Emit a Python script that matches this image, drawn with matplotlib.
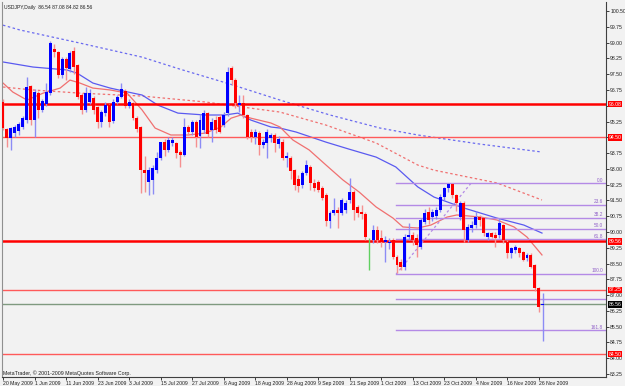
import matplotlib
matplotlib.use("Agg")
import matplotlib.pyplot as plt
import matplotlib.transforms as mtransforms
import numpy as np

plt.rcParams["font.family"] = ["Liberation Sans", "DejaVu Sans"]

# daily USDJPY candles, 20 May 2009 .. 27 Nov 2009
opens = [96.19, 94.90, 94.45, 94.70, 94.80, 95.00, 95.30, 96.93, 95.32, 96.60,
         95.80, 96.10, 96.60, 98.70, 98.55, 97.46, 98.20, 97.73, 98.61, 97.93,
         96.51, 95.80, 96.20, 96.35, 95.95, 95.24, 95.67, 96.03, 95.29, 96.19,
         96.43, 96.70, 95.98, 96.11, 95.40, 95.00, 92.94, 92.40, 92.45, 92.94,
         93.50, 94.26, 93.89, 94.22, 94.21, 93.80, 93.66, 95.00, 94.77, 95.24,
         94.55, 94.84, 95.64, 94.84, 95.32, 95.48, 95.08, 95.64, 97.77, 97.22,
         96.03, 96.11, 95.56, 94.77, 94.53, 94.69, 94.13, 94.21, 94.45, 94.61,
         94.20, 94.30, 93.50, 93.50, 92.94, 92.50, 92.23, 92.79, 93.10, 92.31,
         92.39, 92.07, 91.76, 90.50, 90.90, 91.05, 90.89, 91.05, 91.52, 91.92,
         91.20, 90.95, 90.85, 89.65, 89.62, 90.09, 89.70, 89.54, 89.46, 89.62,
         88.83, 88.59, 88.35, 89.78, 89.86, 89.70, 89.30, 90.49, 90.97, 90.73,
         90.75, 91.05, 91.68, 92.07, 92.28, 91.76, 90.70, 91.36, 89.62, 90.17,
         90.33, 90.73, 90.65, 89.78, 89.94, 89.86, 89.86, 90.33, 89.54, 89.02,
         89.14, 89.22, 89.07, 88.75, 88.91, 88.43, 87.32, 86.54]
highs = [96.30, 94.95, 95.00, 95.10, 95.25, 95.50, 97.35, 97.00, 96.80, 96.70,
         96.30, 97.10, 99.10, 98.95, 98.60, 98.30, 98.30, 98.60, 98.80, 98.00,
         96.60, 96.90, 96.80, 96.45, 96.00, 95.80, 96.20, 96.10, 96.30, 96.50,
         97.06, 96.80, 96.30, 96.20, 95.50, 95.05, 93.60, 93.10, 93.20, 93.80,
         94.30, 94.40, 94.50, 94.50, 94.30, 93.90, 95.40, 95.10, 95.30, 95.30,
         95.60, 95.80, 95.70, 95.40, 95.50, 95.60, 95.70, 97.85, 97.90, 97.30,
         96.50, 96.50, 95.60, 94.90, 94.90, 94.80, 94.40, 94.90, 94.70, 94.70,
         94.55, 94.40, 93.80, 93.60, 93.00, 92.70, 92.90, 93.40, 93.20, 92.50,
         92.45, 92.20, 91.85, 91.00, 91.60, 91.20, 91.60, 91.50, 92.55, 92.00,
         91.30, 91.30, 90.95, 89.70, 90.33, 90.30, 90.10, 89.80, 89.70, 89.70,
         88.90, 88.70, 89.90, 90.41, 90.00, 89.90, 90.65, 91.10, 91.20, 91.10,
         91.20, 91.80, 92.15, 92.33, 92.32, 91.80, 91.45, 91.45, 90.40, 90.50,
         91.00, 90.80, 90.70, 90.00, 90.00, 90.00, 90.65, 90.40, 89.60, 89.30,
         89.40, 89.30, 89.10, 89.00, 89.00, 88.50, 87.40, 87.08]
lows = [94.85, 94.05, 93.90, 94.50, 94.60, 94.90, 95.20, 95.10, 94.50, 95.40,
        95.70, 96.00, 96.50, 98.30, 97.30, 97.30, 97.22, 97.60, 97.50, 96.30,
        95.60, 95.70, 96.10, 95.60, 94.95, 95.00, 95.50, 95.00, 95.20, 96.10,
        96.35, 95.90, 95.90, 95.30, 94.77, 91.84, 91.90, 91.75, 91.80, 92.80,
        93.40, 93.60, 93.80, 94.10, 93.50, 93.10, 93.60, 94.60, 94.60, 94.05,
        94.00, 94.70, 94.50, 94.30, 94.70, 94.70, 95.00, 95.50, 97.00, 95.90,
        95.70, 95.40, 94.40, 94.30, 94.20, 93.66, 94.00, 93.50, 94.30, 93.80,
        94.00, 93.40, 93.10, 92.50, 92.00, 91.90, 92.10, 92.70, 92.00, 91.95,
        91.90, 91.50, 90.30, 90.20, 90.80, 90.17, 90.80, 90.90, 91.40, 90.57,
        90.70, 90.60, 89.60, 88.20, 89.50, 89.50, 89.30, 88.59, 89.20, 88.70,
        88.04, 88.20, 88.20, 89.60, 89.40, 88.80, 89.20, 90.40, 90.40, 90.50,
        90.60, 90.95, 91.50, 91.90, 91.60, 91.00, 90.57, 89.54, 89.54, 90.00,
        90.20, 90.30, 89.80, 89.60, 89.70, 89.30, 89.70, 89.50, 88.75, 88.75,
        89.00, 88.80, 88.60, 88.60, 88.30, 87.20, 86.22, 84.82]
closes = [94.93, 94.45, 94.95, 95.00, 95.15, 95.42, 96.90, 95.32, 96.65, 95.80,
          96.22, 96.65, 98.96, 98.55, 97.46, 98.20, 97.77, 98.49, 97.85, 96.43,
          95.80, 96.59, 96.60, 95.80, 95.24, 95.72, 96.03, 95.24, 96.19, 96.43,
          96.78, 95.98, 96.19, 95.40, 94.88, 92.94, 92.80, 92.94, 93.02, 93.50,
          94.26, 93.89, 94.37, 94.37, 93.74, 93.66, 95.00, 94.77, 95.24, 94.53,
          95.30, 95.64, 94.64, 95.24, 94.84, 94.77, 95.56, 97.60, 97.22, 96.11,
          96.11, 95.56, 94.53, 94.53, 94.77, 94.13, 94.26, 94.77, 94.61, 94.21,
          94.40, 93.50, 93.60, 92.90, 92.23, 92.20, 92.79, 93.18, 92.31, 92.07,
          91.99, 91.60, 90.50, 90.92, 91.05, 90.89, 91.52, 91.36, 91.92, 91.05,
          90.90, 90.85, 89.78, 89.65, 90.09, 89.62, 89.54, 89.62, 89.54, 88.83,
          88.43, 88.35, 89.78, 89.86, 89.62, 89.38, 90.57, 90.89, 90.57, 90.97,
          91.05, 91.68, 92.07, 92.28, 91.76, 91.36, 91.36, 90.09, 90.25, 90.33,
          90.73, 90.57, 89.94, 89.94, 89.78, 89.70, 90.41, 89.62, 88.99, 89.22,
          89.30, 88.99, 88.67, 88.91, 88.35, 87.32, 86.45, 86.56]

date_bars = list(range(0, 137, 8))
date_labels = ["20 May 2009", "1 Jun 2009", "11 Jun 2009", "23 Jun 2009", "3 Jul 2009",
               "15 Jul 2009", "27 Jul 2009", "6 Aug 2009", "18 Aug 2009", "28 Aug 2009",
               "9 Sep 2009", "21 Sep 2009", "1 Oct 2009", "13 Oct 2009", "23 Oct 2009",
               "4 Nov 2009", "16 Nov 2009", "26 Nov 2009"]

# moving averages (bar index, price)
ma_fast_bars = [0, 2.5, 6.1, 10.2, 14.5, 17, 19.5, 22.8, 27.2, 31.5, 35.3, 38.6, 42.6, 47,
                51.3, 55.3, 57.9, 60.4, 62.9, 68, 70.3, 73.6, 77.7, 82, 86.3, 90.4, 94.7,
                99, 101.5, 105.3, 108.6, 112.7, 115.2, 121.3, 125.4, 129.7, 133, 136.8]
ma_fast = [97.08, 96.65, 96.27, 96.60, 96.84, 97.22, 97.08, 96.84, 96.75, 96.60, 95.80,
           94.94, 94.61, 94.61, 94.70, 94.99, 95.41, 95.56, 95.41, 95.18, 94.99, 94.37,
           93.90, 93.18, 92.47, 91.90, 91.19, 90.66, 90.24, 90.19, 90.33, 90.71, 90.81,
           90.71, 90.57, 90.24, 89.76, 88.91]
ma_mid_bars = [0, 7.6, 16.2, 18.8, 22.8, 27.2, 33, 35.3, 39.3, 44.4, 51.3, 56.3, 59.6,
               62.9, 68, 70.3, 74.4, 82, 87.8, 94.7, 99.7, 105.3, 109.4, 117, 125.4,
               132.2, 136.8]
ma_mid = [98.08, 97.84, 97.70, 97.55, 97.08, 96.84, 96.60, 96.51, 96.03, 95.65, 95.56,
          95.56, 95.65, 95.32, 94.99, 94.94, 94.75, 94.27, 93.94, 93.56, 93.09, 92.14,
          91.66, 91.14, 90.66, 90.33, 89.95]
ma_slow_bars = [0, 7.6, 19.5, 35.3, 51.3, 62.7, 70.3, 82, 94.7, 105.3, 109.4, 125.4, 136.8]
ma_slow = [96.89, 96.75, 96.60, 96.46, 96.18, 95.89, 95.70, 95.08, 94.23, 93.18, 92.94,
           92.33, 91.52]
ma_long_bars = [0, 4.3, 19.5, 35.3, 44.9, 57.6, 70.3, 83, 95.7, 105.3, 121, 136.8]
ma_long = [99.83, 99.60, 98.98, 98.31, 97.74, 97.03, 96.27, 95.56, 94.94, 94.61, 94.18,
           93.80]

# horizontal lines
level_prices = [96.08, 94.50, 89.56, 87.25, 84.20]
level_labels = ["96.08", "94.50", "89.56", "87.25", "84.50"]
level_thick = [True, False, True, False, False]
bid_price = 86.56

# fibonacci retracement drawn between these two points
fib_low_bar, fib_low = 99.8, 88.00
fib_high_bar, fib_high = 118.8, 92.32
fib_levels = [0.0, 23.6, 38.2, 50.0, 61.8, 100.0, 161.8]
extra_price = 86.82

ytick_vals = [100.50 - 0.75 * k for k in range(24)]
hidden_ticks = [96.00, 94.50]  # covered by the price boxes on the scale

bg = "#f2f2f2"
fs = 3.7
fig = plt.figure(figsize=(6.25, 3.86), dpi=100, facecolor=bg)
ax = fig.add_axes([2 / 625, 9 / 386, 604 / 625, 375 / 386], facecolor=bg)
ax.set_xlim(-0.25, 153.05)
ax.set_ylim(83.11, 100.93)

# moving averages
ax.plot(ma_long_bars, ma_long, color="#6a6af0", lw=0.9, ls=(0, (2, 2)), zorder=1)
ax.plot(ma_slow_bars, ma_slow, color="#f07070", lw=0.9, ls=(0, (2, 2)), zorder=1)
ax.plot(ma_mid_bars, ma_mid, color="#5a5af0", lw=0.9, zorder=1)
ax.plot(ma_fast_bars, ma_fast, color="#f07070", lw=0.9, zorder=1)

# horizontal levels
for p, thick in zip(level_prices, level_thick):
    ax.axhline(p, color="#ff0000" if thick else "#ff5a5a", lw=1.8 if thick else 1.0, zorder=2)
ax.axhline(bid_price, color="#7f9a80", lw=1.0, zorder=2)

# fibonacci
fib_color = "#b48ae6"
x_end = ax.get_xlim()[1]
for lvl in fib_levels:
    p = fib_high - (fib_high - fib_low) * lvl / 100
    ax.plot([fib_low_bar, x_end], [p, p], color=fib_color, lw=1.0, zorder=2)
    ax.text(x_end - 0.8, p + 0.03, f"{lvl:.1f}", color="#9060c8", fontsize=3.4,
            ha="right", va="bottom", zorder=5)
ax.plot([fib_low_bar, x_end], [extra_price, extra_price], color=fib_color, lw=1.0, zorder=2)
ax.plot([fib_low_bar, fib_high_bar], [fib_low, fib_high], color=fib_color, lw=0.9,
        ls=(0, (2, 2)), zorder=2)

# candles
x = np.arange(len(opens))
o = np.array(opens)
c = np.array(closes)
up = c > o
down = c < o
doji = c == o
ax.vlines(x[up], np.array(lows)[up], np.array(highs)[up], color="#8c8cf5", lw=1.0, zorder=3)
ax.vlines(x[down], np.array(lows)[down], np.array(highs)[down], color="#f59090", lw=1.0, zorder=3)
ax.vlines(x[doji], np.array(lows)[doji], np.array(highs)[doji], color="#60d060", lw=1.0, zorder=3)
ax.bar(x[up], (c - o)[up], bottom=o[up], width=0.75, color="#0000ff", lw=0, zorder=4)
ax.bar(x[down], (c - o)[down], bottom=o[down], width=0.75, color="#ff0000", lw=0, zorder=4)

# axes look
ax.spines["top"].set_visible(False)
ax.spines["left"].set_color("#909090")
ax.spines["right"].set_color("#404040")
ax.spines["bottom"].set_color("#404040")
ax.yaxis.tick_right()
ax.set_yticks(ytick_vals)
ax.set_yticklabels(["" if any(abs(v - h) < 0.01 for h in hidden_ticks) else f"{v:.2f}"
                    for v in ytick_vals])
ax.tick_params(axis="y", length=2, width=0.6, pad=1, labelsize=fs, colors="#202020")
ax.set_xticks(date_bars)
ax.set_xticklabels(date_labels)
ax.tick_params(axis="x", length=2, width=0.6, pad=1, labelsize=fs, colors="#202020")
for lab in ax.get_xticklabels():
    lab.set_horizontalalignment("left")

# price labels on the scale
trans = mtransforms.blended_transform_factory(ax.transAxes, ax.transData)
for p, lab in zip(level_prices, level_labels):
    ax.text(1.004, p, lab, transform=trans, fontsize=fs, color="white", va="center",
            ha="left", clip_on=False, zorder=6,
            bbox=dict(boxstyle="square,pad=0.15", fc="#ff0000", ec="none"))
ax.text(1.004, bid_price, f"{bid_price:.2f}", transform=trans, fontsize=fs, color="white",
        va="center", ha="left", clip_on=False, zorder=6,
        bbox=dict(boxstyle="square,pad=0.15", fc="#000000", ec="none"))

fig.text(4 / 625, 1 - 8 / 386, "USDJPY,Daily  86.54 87.08 84.82 86.56", fontsize=3.6,
         color="#202020", va="center", ha="left")
fig.text(3 / 625, 1 - 373 / 386, "MetaTrader, \u00a9 2001-2009 MetaQuotes Software Corp.",
         fontsize=3.8, color="#202020", va="center", ha="left")

fig.savefig("out.png", dpi=100, facecolor=bg)
